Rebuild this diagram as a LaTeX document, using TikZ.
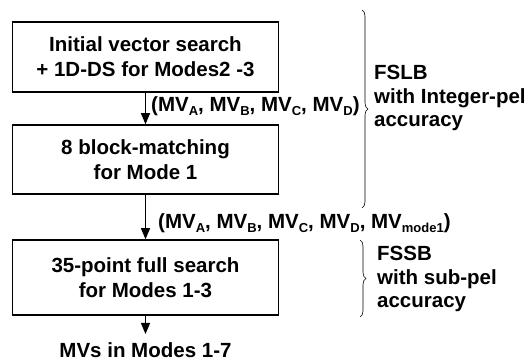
\documentclass[tikz,border=0pt]{standalone}
\usepackage{fontspec}
\setmainfont{Liberation Sans}
\usepackage{tikz}
\usetikzlibrary{arrows,positioning}
\usetikzlibrary{decorations.pathreplacing}
\newcommand{\mvsub}[1]{\raisebox{-4.5pt}{\fontsize{13}{13}\selectfont #1}}

\begin{document}
\begin{tikzpicture}[x=1pt,y=-1pt,
  stage/.style={draw,line width=1.6pt,minimum width=266pt,align=center,inner sep=0pt,
    font=\bfseries\fontsize{20.5}{25}\selectfont},
  txt/.style={align=left,inner sep=0pt,font=\bfseries\fontsize{20.5}{23.5}\selectfont},
  flow/.style={-triangle 45,line width=1.6pt},
  bracket/.style={decorate,decoration={brace,amplitude=6pt},line width=0.6pt}]
\useasboundingbox (0,0) rectangle (528,361);
\node[stage,minimum height=70pt] (init) at (145.5,57) {Initial vector search\\+ 1D-DS for Modes2 -3};
\node[stage,minimum height=69pt] (bm) at (145.5,159.5) {8 block-matching\\for Mode 1};
\node[stage,minimum height=75pt] (fs) at (145.5,277.5) {35-point full search\\for Modes 1-3};
\node[txt] (out) at (145.5,350) {MVs in Modes 1-7};
\coordinate (outtip) at (145.5,334);
\draw[flow] (init) -- (bm);
\draw[flow] (bm) -- (fs);
\draw[flow] (fs) -- (outtip);
\node[txt,anchor=west] (mv1) at (151,106) {(MV\mvsub{A}, MV\mvsub{B}, MV\mvsub{C}, MV\mvsub{D})};
\node[txt,anchor=west] (mv2) at (158,223) {(MV\mvsub{A}, MV\mvsub{B}, MV\mvsub{C}, MV\mvsub{D}, MV\mvsub{mode1})};
\coordinate (b1top) at (362,10);
\coordinate (b1bot) at (362,208);
\coordinate (b2top) at (360,240);
\coordinate (b2bot) at (360,317);
\draw[bracket] (b1top) -- (b1bot);
\draw[bracket] (b2top) -- (b2bot);
\node[txt,anchor=west] (fslb) at (374,98) {FSLB\\with Integer-pel\\accuracy};
\node[txt,anchor=west] (fssb) at (377,279) {FSSB\\with sub-pel\\accuracy};
\end{tikzpicture}
\end{document}
